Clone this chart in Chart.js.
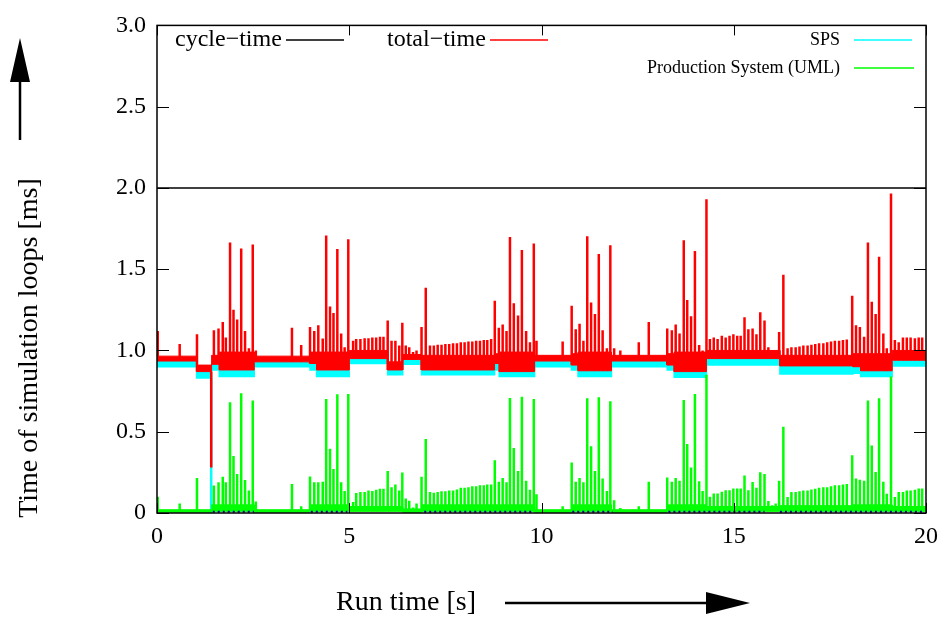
<!DOCTYPE html>
<html>
<head>
<meta charset="utf-8">
<script src="https://cdn.jsdelivr.net/npm/chart.js@4.4.0/dist/chart.umd.min.js"></script>
<style>
  html, body { margin: 0; padding: 0; background: #fff; }
  canvas { display: block; }
</style>
</head>
<body>
<canvas id="c" width="947" height="617"></canvas>
<script>
// ---- series labels and axis ticks ----
const legendLabels = ['cycle\u2212time', 'total\u2212time', 'SPS', 'Production System (UML)'];
const xTicks = [0, 5, 10, 15, 20];
const yTicks = [0, 0.5, 1, 1.5, 2, 2.5, 3];
const xTitle = 'Run time [s]';
const yTitle = 'Time of simulation loops [ms]';

// cycle-time: fixed loop period [ms]
const cycleT = [0, 20];
const cycleV = [2.0, 2.0];

// load phases [s] with the band each series sits in [ms]
const segStart = [0.00, 1.03, 1.42, 1.62, 2.53, 3.98, 4.15, 5.00, 6.00, 6.39, 6.88, 8.78, 8.90, 9.82, 10.78, 10.95, 11.82, 13.27, 13.45, 14.29, 16.20, 18.10, 18.30, 19.12];
const segEnd   = [1.03, 1.42, 1.62, 2.53, 3.98, 4.15, 5.00, 6.00, 6.39, 6.88, 8.78, 8.90, 9.82, 10.78, 10.95, 11.82, 13.27, 13.45, 14.29, 16.20, 18.10, 18.30, 19.12, 20.00];
const spsLo    = [0.900, 0.830, 0.880, 0.840, 0.900, 0.880, 0.840, 0.920, 0.850, 0.915, 0.850, 0.880, 0.840, 0.900, 0.880, 0.840, 0.900, 0.880, 0.835, 0.910, 0.855, 0.860, 0.840, 0.905];
const spsHi    = [0.935, 0.870, 0.915, 0.880, 0.930, 0.920, 0.880, 0.950, 0.880, 0.945, 0.880, 0.920, 0.870, 0.935, 0.910, 0.875, 0.935, 0.910, 0.870, 0.950, 0.905, 0.900, 0.875, 0.940];
const totalLo  = [0.935, 0.870, 0.915, 0.880, 0.930, 0.920, 0.880, 0.950, 0.880, 0.945, 0.880, 0.920, 0.870, 0.935, 0.910, 0.875, 0.935, 0.910, 0.870, 0.950, 0.905, 0.900, 0.875, 0.940];
const totalHi  = [0.965, 0.910, 0.970, 0.990, 0.965, 0.990, 0.990, 1.000, 0.930, 0.975, 0.970, 0.980, 0.990, 0.970, 0.980, 0.990, 0.970, 0.980, 0.990, 1.000, 0.970, 0.980, 0.980, 1.000];
const psLo     = [0.005, 0.005, 0.010, 0.010, 0.005, 0.010, 0.010, 0.010, 0.010, 0.005, 0.010, 0.010, 0.010, 0.005, 0.010, 0.010, 0.005, 0.010, 0.010, 0.010, 0.010, 0.010, 0.010, 0.010];
const psHi     = [0.020, 0.020, 0.050, 0.050, 0.020, 0.050, 0.050, 0.040, 0.040, 0.025, 0.050, 0.050, 0.050, 0.020, 0.050, 0.050, 0.020, 0.050, 0.050, 0.040, 0.045, 0.050, 0.050, 0.040];

// individual loop peaks: time [s], total-time [ms], Production System (UML) [ms]
const peakT = [
  0.02, 0.59, 1.04,
  1.48, 1.60, 1.71, 1.79, 1.90, 1.99, 2.085, 2.19, 2.29, 2.39, 2.49, 2.57,
  3.51, 3.75,
  3.98, 4.09, 4.195, 4.31, 4.40, 4.50, 4.59, 4.69, 4.79, 4.88, 4.975,
  5.10, 5.18, 5.29, 5.40, 5.50, 5.60, 5.70, 5.80, 5.89, 6.00,
  6.10, 6.20, 6.30, 6.38,
  6.47, 6.56, 6.66, 6.75, 6.88, 6.99,
  7.10, 7.20, 7.30, 7.40, 7.50, 7.60, 7.70, 7.80, 7.90, 8.00, 8.10, 8.20, 8.30, 8.40, 8.50, 8.59, 8.69,
  8.785, 8.89, 8.99, 9.09, 9.18, 9.28, 9.39, 9.49, 9.60, 9.70, 9.80, 9.87,
  10.55,
  10.785, 10.89, 10.99, 11.09, 11.19, 11.29, 11.39, 11.49, 11.59, 11.70, 11.79, 11.89,
  12.05, 12.53, 12.79,
  13.27, 13.39, 13.49, 13.59, 13.70, 13.79, 13.89, 13.99, 14.10, 14.19, 14.29,
  14.38, 14.48, 14.58, 14.69, 14.79, 14.89, 14.99, 15.09, 15.18, 15.28, 15.38, 15.49, 15.59, 15.69, 15.80, 15.90, 16.00, 16.09,
  16.18, 16.29,
  16.40, 16.50, 16.61, 16.71, 16.81, 16.92, 17.02, 17.12, 17.22, 17.33, 17.43, 17.53, 17.63, 17.74, 17.84, 17.94,
  18.08, 18.18, 18.28, 18.39, 18.49, 18.59, 18.69, 18.78, 18.89, 18.98, 19.09,
  19.19, 19.29, 19.40, 19.50, 19.60, 19.71, 19.81, 19.90
];
const peakTotal = [
  1.12, 1.04, 1.10,
  1.125, 1.135, 1.175, 1.08, 1.664, 1.25, 1.19, 1.628, 1.12, 1.014, 1.652, 1.00,
  1.14, 1.034,
  1.145, 1.12, 1.155, 1.074, 1.708, 1.27, 1.23, 1.624, 1.105, 1.02, 1.684,
  1.06, 1.07, 1.07, 1.075, 1.075, 1.08, 1.08, 1.085, 1.085, 1.185,
  1.06, 1.06, 1.03, 1.17,
  1.03, 1.02, 0.99, 1.00, 1.145, 1.386,
  1.03, 1.03, 1.035, 1.035, 1.04, 1.04, 1.045, 1.045, 1.05, 1.05, 1.055, 1.055, 1.06, 1.06, 1.065, 1.065, 1.07,
  1.306, 1.14, 1.16, 1.12, 1.698, 1.29, 1.215, 1.618, 1.12, 1.05, 1.658, 1.06,
  1.055,
  1.275, 1.13, 1.165, 1.06, 1.702, 1.295, 1.225, 1.593, 1.125, 1.014, 1.648, 1.014,
  1.00, 1.05, 1.175,
  1.135, 1.125, 1.16, 1.105, 1.678, 1.31, 1.21, 1.612, 1.034, 1.00, 1.93,
  1.07, 1.08, 1.07, 1.09, 1.08, 1.09, 1.10, 1.09, 1.09, 1.205, 1.13, 1.135, 1.10, 1.235, 1.185, 1.02, 1.00, 0.99,
  1.114, 1.466,
  1.014, 1.02, 1.02, 1.025, 1.03, 1.03, 1.035, 1.04, 1.045, 1.045, 1.05, 1.055, 1.06, 1.06, 1.065, 1.068,
  1.336, 1.155, 1.145, 1.085, 1.664, 1.30, 1.225, 1.577, 1.104, 1.014, 1.966,
  1.064, 1.05, 1.08, 1.08, 1.08, 1.075, 1.08, 1.08
];
const peakPS = [
  0.10, 0.058, 0.215,
  0.169, 0.189, 0.223, 0.189, 0.682, 0.351, 0.24, 0.737, 0.203, 0.139, 0.692, 0.07,
  0.179, 0.042,
  0.225, 0.189, 0.189, 0.193, 0.702, 0.396, 0.27, 0.73, 0.189, 0.135, 0.732,
  0.068, 0.123, 0.129, 0.129, 0.139, 0.135, 0.143, 0.149, 0.149, 0.259,
  0.159, 0.175, 0.139, 0.249,
  0.089, 0.075, 0.034, 0.058, 0.223, 0.455,
  0.129, 0.124, 0.129, 0.134, 0.134, 0.139, 0.139, 0.145, 0.155, 0.155, 0.159, 0.165, 0.165, 0.17, 0.17, 0.175, 0.175,
  0.324, 0.193, 0.215, 0.189, 0.708, 0.40, 0.259, 0.716, 0.199, 0.143, 0.702, 0.115,
  0.042,
  0.31, 0.193, 0.215, 0.189, 0.706, 0.41, 0.259, 0.712, 0.213, 0.135, 0.688, 0.079,
  0.03, 0.042, 0.193,
  0.219, 0.193, 0.215, 0.199, 0.696, 0.424, 0.28, 0.732, 0.195, 0.135, 0.85,
  0.10, 0.12, 0.12, 0.13, 0.14, 0.14, 0.15, 0.15, 0.15, 0.23, 0.14, 0.19, 0.155, 0.25, 0.24, 0.074, 0.048, 0.058,
  0.199, 0.531,
  0.099, 0.129, 0.129, 0.134, 0.139, 0.139, 0.145, 0.149, 0.155, 0.159, 0.159, 0.165, 0.17, 0.17, 0.175, 0.179,
  0.356, 0.213, 0.205, 0.199, 0.692, 0.416, 0.253, 0.706, 0.193, 0.119, 0.84,
  0.099, 0.129, 0.129, 0.139, 0.139, 0.143, 0.151, 0.151
];

// single loop where the timers dropped out
const dropT = [1.41];
const dropTotal = [0.28];
const dropSPS = [0.0];

// idle-wait trace near zero during the busy phases
const idleStart = [1.45, 4.00, 6.95, 10.80, 13.30, 16.20];
const idleEnd   = [2.52, 4.95, 9.80, 11.85, 15.80, 19.90];
const idleLevel = [0.008, 0.008, 0.008, 0.008, 0.008, 0.008];

// ---- helpers turning the arrays into point lists ----
const segOf = t => {
  const k = segStart.findIndex((s, i) => t >= s && t < segEnd[i]);
  return k < 0 ? segStart.length - 1 : k;
};
const bandPts = vals => segStart.flatMap((s, i) => [{ x: s, y: vals[i] }, { x: segEnd[i], y: vals[i] }]);
const vLines = (ts, lows, highs) => ts.flatMap((t, i) => [{ x: t, y: lows[i] }, { x: t, y: highs[i] }, { x: t, y: null }]);
const runs = (a, b, v) => a.flatMap((s, i) => [{ x: s, y: v[i] }, { x: b[i], y: v[i] }, { x: b[i], y: null }]);

const RED = '#ff0000', CYAN = '#00ffff', GREEN = '#00ff00', NAVY = '#0000a0';
const SERIF = "'Liberation Serif', 'Times New Roman', serif";

const common = { pointRadius: 0, pointHoverRadius: 0, tension: 0, spanGaps: false };

const datasets = [
  { ...common, label: 'idle', data: runs(idleStart, idleEnd, idleLevel),
    borderColor: NAVY, borderWidth: 2, borderDash: [2, 3], order: 0 },

  { ...common, label: legendLabels[3], data: vLines(peakT, peakT.map(t => psLo[segOf(t)]), peakPS),
    borderColor: GREEN, borderWidth: 2.5, order: 1 },
  { ...common, label: 'ps band', data: bandPts(psHi), borderColor: GREEN, borderWidth: 1,
    backgroundColor: GREEN, fill: '+1', order: 1 },
  { ...common, label: 'ps base', data: bandPts(psLo), borderColor: GREEN, borderWidth: 1, fill: false, order: 1 },

  { ...common, label: legendLabels[1], data: vLines(peakT, peakT.map(t => totalLo[segOf(t)]), peakTotal),
    borderColor: RED, borderWidth: 2.5, order: 2 },
  { ...common, label: 'total drop', data: vLines(dropT, dropTotal, dropT.map(t => totalLo[segOf(t)])),
    borderColor: RED, borderWidth: 2.5, order: 2 },
  { ...common, label: 'total band', data: bandPts(totalHi), borderColor: RED, borderWidth: 1,
    backgroundColor: RED, fill: '+1', order: 2 },
  { ...common, label: 'total base', data: bandPts(totalLo), borderColor: RED, borderWidth: 1, fill: false, order: 2 },

  { ...common, label: legendLabels[2], data: bandPts(spsHi), borderColor: CYAN, borderWidth: 1,
    backgroundColor: CYAN, fill: '+1', order: 3 },
  { ...common, label: 'sps base', data: bandPts(spsLo), borderColor: CYAN, borderWidth: 1.5, fill: false, order: 3 },
  { ...common, label: 'sps drop', data: vLines(dropT, dropSPS, dropT.map(t => spsLo[segOf(t)])),
    borderColor: CYAN, borderWidth: 2.5, order: 3 },

  { ...common, label: legendLabels[0], data: cycleT.map((t, i) => ({ x: t, y: cycleV[i] })),
    borderColor: '#000', borderWidth: 1.5, order: 4 }
];

// frame with inward ticks on all four sides, key, axis titles and arrows
const framePlugin = {
  id: 'frame',
  afterDraw(chart) {
    const { ctx, chartArea: a, scales: { x, y } } = chart;
    ctx.save();
    ctx.strokeStyle = '#000';
    ctx.lineWidth = 1;
    ctx.beginPath();
    yTicks.forEach(v => {
      const py = Math.round(y.getPixelForValue(v)) + 0.5;
      ctx.moveTo(a.left, py); ctx.lineTo(a.left + 12, py);
      ctx.moveTo(a.right, py); ctx.lineTo(a.right - 12, py);
    });
    xTicks.forEach(v => {
      const px = Math.round(x.getPixelForValue(v)) + 0.5;
      ctx.moveTo(px, a.bottom); ctx.lineTo(px, a.bottom - 10);
      ctx.moveTo(px, a.top); ctx.lineTo(px, a.top + 10);
    });
    ctx.stroke();
    ctx.lineWidth = 1.5;
    ctx.strokeRect(a.left, a.top, a.right - a.left, a.bottom - a.top);

    // key
    ctx.fillStyle = '#000';
    ctx.textBaseline = 'middle';
    const key = [
      { text: legendLabels[0], color: '#000', size: 24, align: 'left', tx: 175, y: 40, l0: 286, l1: 344 },
      { text: legendLabels[1], color: RED, size: 24, align: 'left', tx: 387, y: 40, l0: 490, l1: 548 },
      { text: legendLabels[2], color: CYAN, size: 18, align: 'right', tx: 840, y: 40, l0: 854, l1: 912 },
      { text: legendLabels[3], color: GREEN, size: 18, align: 'right', tx: 840, y: 68, l0: 854, l1: 914 }
    ];
    key.forEach(k => {
      ctx.font = k.size + 'px ' + SERIF;
      ctx.textAlign = k.align;
      ctx.fillText(k.text, k.tx, k.y);
      ctx.strokeStyle = k.color;
      ctx.lineWidth = 1.5;
      ctx.beginPath();
      ctx.moveTo(k.l0, k.y); ctx.lineTo(k.l1, k.y);
      ctx.stroke();
    });

    // axis titles
    ctx.fillStyle = '#000';
    ctx.font = '28px ' + SERIF;
    ctx.textAlign = 'left';
    ctx.fillText(xTitle, 336, 603);
    ctx.save();
    ctx.translate(30, 348);
    ctx.rotate(-Math.PI / 2);
    ctx.textAlign = 'center';
    ctx.fillText(yTitle, 0, 0);
    ctx.restore();

    // arrows
    ctx.strokeStyle = '#000';
    ctx.lineWidth = 2.5;
    ctx.beginPath();
    ctx.moveTo(20, 140); ctx.lineTo(20, 78);
    ctx.moveTo(505, 603); ctx.lineTo(710, 603);
    ctx.stroke();
    ctx.beginPath();
    ctx.moveTo(20, 38); ctx.lineTo(10, 82); ctx.lineTo(30, 82); ctx.closePath();
    ctx.moveTo(750, 603); ctx.lineTo(706, 592); ctx.lineTo(706, 614); ctx.closePath();
    ctx.fill();
    ctx.restore();
  }
};

new Chart(document.getElementById('c'), {
  type: 'line',
  data: { datasets },
  options: {
    responsive: false,
    animation: false,
    devicePixelRatio: 1,
    layout: { padding: { top: 16, right: 13, left: 0, bottom: 0 } },
    plugins: { legend: { display: false }, tooltip: { enabled: false } },
    scales: {
      x: {
        type: 'linear', min: 0, max: 20, offset: false,
        afterBuildTicks: s => { s.ticks = xTicks.map(v => ({ value: v })); },
        afterFit: s => { s.height = 104; },
        grid: { display: false, drawTicks: false },
        border: { display: false },
        ticks: { autoSkip: false, maxRotation: 0, padding: 9, color: '#000',
                 font: { family: SERIF, size: 24 } }
      },
      y: {
        type: 'linear', min: 0, max: 3,
        afterBuildTicks: s => { s.ticks = yTicks.map(v => ({ value: v })); },
        afterFit: s => { s.width = 157; },
        grid: { display: false, drawTicks: false },
        border: { display: false },
        ticks: { autoSkip: false, padding: 11, color: '#000',
                 font: { family: SERIF, size: 24 },
                 callback: v => (v === 0 ? '0' : v.toFixed(1)) }
      }
    }
  },
  plugins: [framePlugin]
});
</script>
</body>
</html>
